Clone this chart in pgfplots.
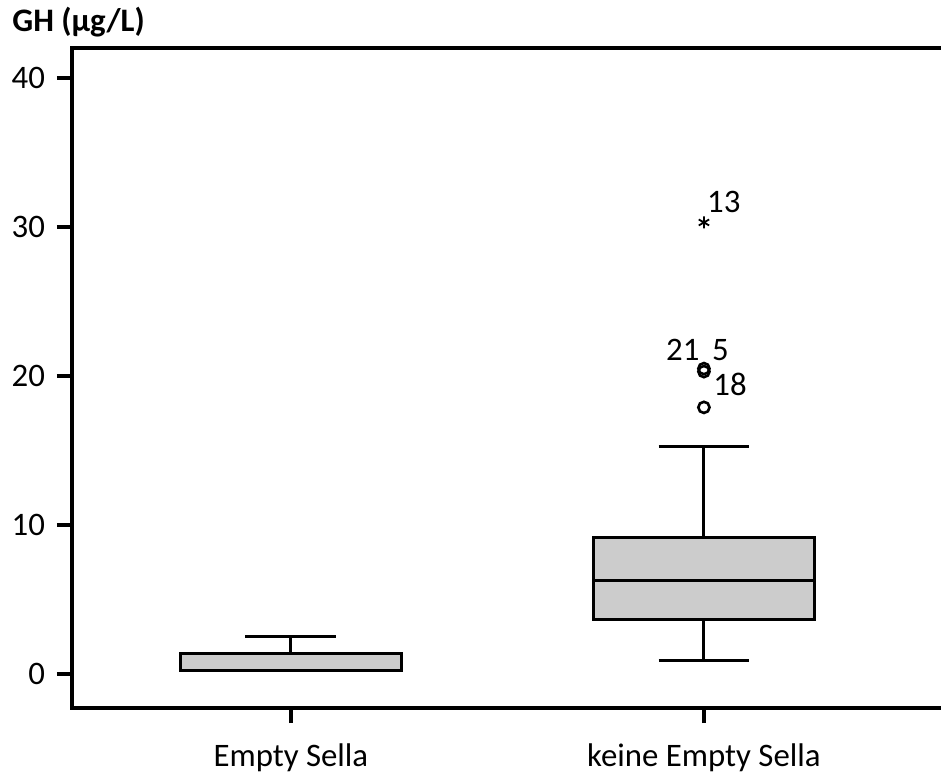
\documentclass[border=0pt]{standalone}
\usepackage{pgfplots}
\pgfplotsset{compat=1.18}
\usepgfplotslibrary{statistics}
\usepackage{fontspec}
\setmainfont{Carlito}
\begin{document}
\begin{tikzpicture}
\begin{axis}[
  name=ax,
  width=434.5pt, height=330pt, scale only axis,
  xmin=-0.530, xmax=1.574, ymin=-2.26, ymax=42.0,
  xtick={0,1}, xticklabels={Empty Sella, keine Empty Sella},
  ytick={0,10,20,30,40},
  tick align=outside, tick pos=left,
  major tick length=7.5pt,
  tick style={line width=2pt, black},
  axis line style={draw=none},
  clip=false,
  ticklabel style={font=\fontsize{16.4}{19}\selectfont},
  xticklabel style={yshift=-7pt},
  yticklabel style={xshift=-2.5pt},
  /pgf/number format/assume math mode=true,
  boxplot/draw direction=y,
]
\addplot+[boxplot prepared={lower whisker=0.24, lower quartile=0.24, median=0.24, upper quartile=1.41, upper whisker=2.52, draw position=0, box extend=0.535, whisker extend=0.22}, draw=black, fill=black!20, line width=1.5pt, solid] coordinates {};
\addplot+[boxplot prepared={lower whisker=0.91, lower quartile=3.69, median=6.31, upper quartile=9.17, upper whisker=15.25, draw position=1, box extend=0.535, whisker extend=0.22}, draw=black, fill=black!20, line width=1.5pt, solid] coordinates {};
\addplot[only marks, mark=o, mark size=2.8pt, line width=1.3pt, black] coordinates {(1,17.9) (1,20.3) (1,20.5)};
\addplot[only marks, mark=asterisk, mark size=3pt, line width=0.9pt, black] coordinates {(1,30.3)};
\node[anchor=west, font=\fontsize{16.4}{19}\selectfont, inner sep=0pt] at (axis cs:1.007,31.7) {13};
\node[anchor=east, font=\fontsize{16.4}{19}\selectfont, inner sep=0pt] at (axis cs:0.990,21.77) {21};
\node[anchor=west, font=\fontsize{16.4}{19}\selectfont, inner sep=0pt] at (axis cs:1.019,21.77) {5};
\node[anchor=west, font=\fontsize{16.4}{19}\selectfont, inner sep=0pt] at (axis cs:1.022,19.42) {18};
\draw[line width=2pt, line cap=rect] (rel axis cs:1,1) -- (rel axis cs:0,1) -- (rel axis cs:0,0) -- (rel axis cs:1,0);
\end{axis}
\node[anchor=base west, font=\bfseries\fontsize{16.4}{19}\selectfont, inner sep=0pt] at ([xshift=-30pt, yshift=8pt]ax.north west) {GH (μg/L)};
\pgfresetboundingbox
\path ([xshift=-36pt, yshift=-34pt]ax.south west) rectangle ++(470.5pt,388pt);
\end{tikzpicture}
\end{document}
